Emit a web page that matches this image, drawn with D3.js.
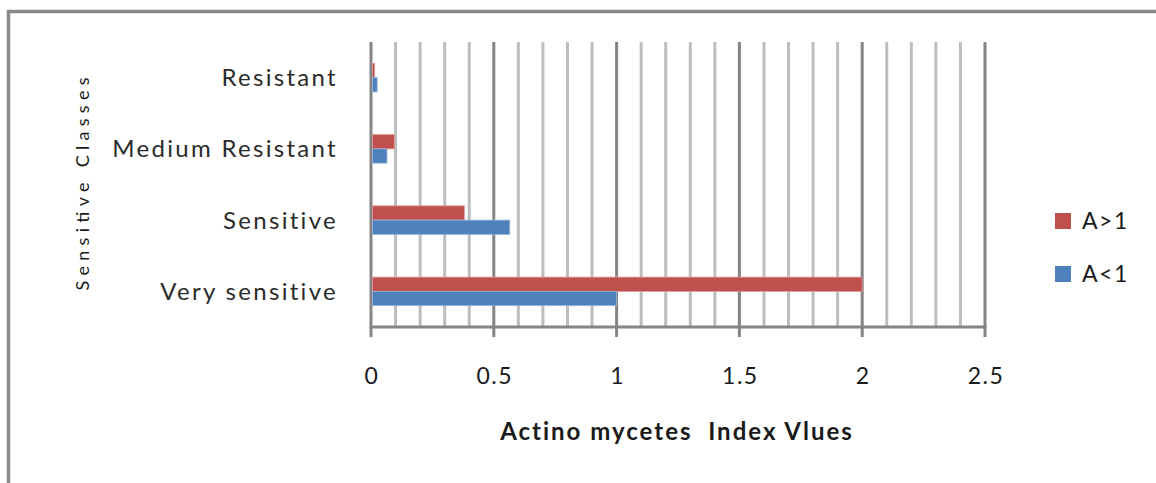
<!DOCTYPE html>
<html>
<head>
<meta charset="utf-8">
<script src="https://cdn.jsdelivr.net/npm/d3@7"></script>
<style>
  html, body { margin: 0; padding: 0; background: #fff; }
  svg { display: block; }
  text { font-family: Lato, "Open Sans", sans-serif; white-space: pre; }
</style>
</head>
<body>
<svg id="chart" width="1156" height="483"></svg>
<script>
// ---- data ----
const categories = ["Resistant", "Medium Resistant", "Sensitive", "Very sensitive"];
const seriesNames = ["A>1", "A<1"];
const seriesAgt1 = [0.015, 0.095, 0.38, 2.0];
const seriesAlt1 = [0.025, 0.065, 0.565, 1.0];
const xTickValues = [0, 0.5, 1, 1.5, 2, 2.5];
const xTickLabels = ["0", "0.5", "1", "1.5", "2", "2.5"];
const xTitle = "Actino mycetes  Index Vlues";
const yTitle = "Sensitive Classes";
const colors = ["#c0504d", "#4f81bd"];

const table = categories.map((c, i) => ({ cat: c, values: [seriesAgt1[i], seriesAlt1[i]] }));

const svg = d3.select("#chart");
svg.append("rect").attr("width", 1156).attr("height", 483).attr("fill", "#fff");

// outer frame
svg.append("rect")
  .attr("x", 8.5).attr("y", 11.5).attr("width", 1200).attr("height", 600)
  .attr("fill", "none").attr("stroke", "#8a8a8a").attr("stroke-width", 3.5);

const x = d3.scaleLinear().domain([0, 2.5]).range([371, 985]);
const y0 = d3.scaleBand().domain(categories).range([42, 327]).paddingInner(0.6).paddingOuter(0.3);
const y1 = d3.scaleBand().domain(seriesNames).range([0, y0.bandwidth()]);

// gridlines
const minor = d3.range(1, 25).map(i => i / 10).filter(v => Math.abs(v * 2 - Math.round(v * 2)) > 1e-6);
svg.append("g").selectAll("line").data(minor).join("line")
  .attr("x1", d => x(d)).attr("x2", d => x(d))
  .attr("y1", 42).attr("y2", 327)
  .attr("stroke", "#bdbdbd").attr("stroke-width", 3);
svg.append("g").selectAll("line").data(xTickValues).join("line")
  .attr("x1", d => x(d)).attr("x2", d => x(d))
  .attr("y1", 42).attr("y2", 337)
  .attr("stroke", "#858585").attr("stroke-width", 3);

// x axis line
svg.append("line").attr("x1", x(0) - 1.5).attr("x2", x(2.5) + 1.5)
  .attr("y1", 327).attr("y2", 327).attr("stroke", "#858585").attr("stroke-width", 3);

// bars
const groups = svg.append("g").selectAll("g").data(table).join("g")
  .attr("transform", d => `translate(0,${y0(d.cat)})`);
groups.selectAll("rect").data(d => d.values.map((v, i) => ({ v, s: seriesNames[i], i }))).join("rect")
  .attr("x", x(0) + 1.5)
  .attr("y", d => y1(d.s))
  .attr("width", d => Math.max(0, x(d.v) - x(0) - 1.5))
  .attr("height", y1.bandwidth())
  .attr("fill", d => colors[d.i])
  .attr("stroke", d => d.i === 0 ? "#d99694" : "#95b3d7").attr("stroke-width", 0.8);

// x tick labels
svg.append("g").selectAll("text").data(xTickValues).join("text")
  .attr("x", d => x(d) + 1).attr("y", 384)
  .attr("text-anchor", "middle")
  .attr("font-size", 23).attr("letter-spacing", 1.5).attr("fill", "#1a1a1a")
  .text((d, i) => xTickLabels[i]);

// category labels
svg.append("g").selectAll("text").data(categories).join("text")
  .attr("x", 338).attr("y", d => y0(d) + y0.bandwidth() / 2 + 8.5)
  .attr("text-anchor", "end")
  .attr("font-size", 24).attr("letter-spacing", 2.3).attr("fill", "#2b2b2b")
  .text(d => d);

// x title
svg.append("text").attr("x", 677).attr("y", 440)
  .attr("text-anchor", "middle").attr("font-size", 24).attr("font-weight", "bold")
  .attr("letter-spacing", 2).attr("fill", "#1a1a1a").text(xTitle);

// y title
svg.append("text").attr("transform", "translate(89,184) rotate(-90)")
  .attr("text-anchor", "middle").attr("font-size", 18)
  .attr("textLength", 213).attr("lengthAdjust", "spacing")
  .attr("fill", "#1a1a1a").text(yTitle);

// legend
const legend = svg.append("g").selectAll("g").data(seriesNames).join("g")
  .attr("transform", (d, i) => `translate(1055,${213 + i * 53})`);
legend.append("rect").attr("width", 16).attr("height", 16)
  .attr("fill", (d, i) => colors[i]);
legend.append("text").attr("x", 27).attr("y", 16)
  .attr("font-size", 23).attr("letter-spacing", 1.5).attr("fill", "#1a1a1a").text(d => d);
</script>
</body>
</html>
